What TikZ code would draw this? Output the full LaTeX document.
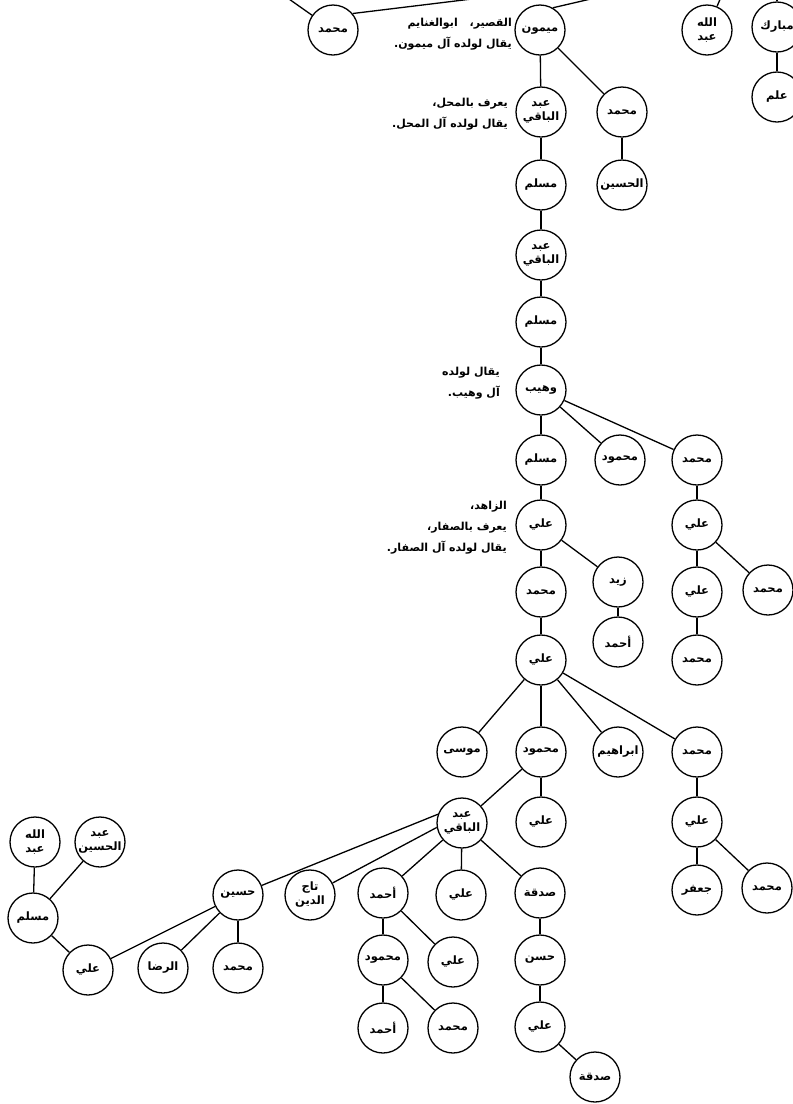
\documentclass[tikz,border=0pt]{standalone}
\usepackage{fontspec}
\usepackage{tikz}
\usetikzlibrary{positioning}
\newfontfamily\arabicfont[Script=Arabic]{DejaVu Sans}
\TeXXeTstate=1
\newcommand{\artxt}[1]{\beginR #1\endR}

\tikzset{
  person/.style={circle, draw, line width=1.3pt, minimum size=50pt, inner sep=0pt,
    align=center, font=\arabicfont\bfseries\fontsize{11.5}{14}\selectfont},
  link/.style={line width=1.3pt},
  remark/.style={anchor=east, align=right, inner sep=0pt,
    font=\arabicfont\bfseries\fontsize{11}{21}\selectfont},
}

\begin{document}
\begin{tikzpicture}[x=1pt, y=-1pt]
    \useasboundingbox (0,0) rectangle (793,1104);
    \clip (0,0) rectangle (793,1104);

    % Top row (parents off the page)
    \node[person] (mhdA) at (333,30) {\artxt{محمد}};
    \node[person] (maymun) at (540,30) {\artxt{ميمون}};
    \node[person] (abdallahA) at (707,30) {\artxt{الله}\\\artxt{عبد}};
    \node[person] (mubarak) at (777,27) {\artxt{مبارك}};
    \node[person] (ilm) at (777,97) {\artxt{علم}};
    \coordinate (offA) at (262,-20);
    \coordinate (offB) at (480,-2);
    \coordinate (offC) at (595,-2);
    \coordinate (offD) at (724,-10);
    \coordinate (offE) at (777,-10);

    % Main line down to Wuhayb
    \node[person] (abdbaqiA) at (541,112) {\artxt{عبد}\\\artxt{الباقي}};
    \node[person] (mhdB) at (622,112) {\artxt{محمد}};
    \node[person] (husaynA) at (622,185) {\artxt{الحسين}};
    \node[person] (muslimA) at (541,185) {\artxt{مسلم}};
    \node[person] (abdbaqiB) at (541,255) {\artxt{عبد}\\\artxt{الباقي}};
    \node[person] (muslimB) at (541,322) {\artxt{مسلم}};
    \node[person] (wuhayb) at (541,390) {\artxt{وهيب}};

    % Sons of Wuhayb
    \node[person] (muslimC) at (541,460) {\artxt{مسلم}};
    \node[person] (mahmudA) at (620,460) {\artxt{محمود}};
    \node[person] (mhdC) at (697,460) {\artxt{محمد}};
    \node[person] (aliA) at (541,525) {\artxt{علي}};
    \node[person] (mhdD) at (541,592) {\artxt{محمد}};
    \node[person] (zayd) at (618,582) {\artxt{زيد}};
    \node[person] (ahmadA) at (618,642) {\artxt{أحمد}};
    \node[person] (aliB) at (541,660) {\artxt{علي}};
    \node[person] (aliC) at (697,525) {\artxt{علي}};
    \node[person] (aliD) at (697,592) {\artxt{علي}};
    \node[person] (mhdE) at (768,590) {\artxt{محمد}};
    \node[person] (mhdF) at (697,660) {\artxt{محمد}};

    % Sons of Ali
    \node[person] (musa) at (462,752) {\artxt{موسى}};
    \node[person] (mahmudB) at (541,752) {\artxt{محمود}};
    \node[person] (ibrahim) at (618,752) {\artxt{ابراهيم}};
    \node[person] (mhdG) at (697,752) {\artxt{محمد}};
    \node[person] (abdbaqiC) at (462,823) {\artxt{عبد}\\\artxt{الباقي}};
    \node[person] (aliE) at (541,822) {\artxt{علي}};
    \node[person] (aliF) at (697,822) {\artxt{علي}};
    \node[person] (jafar) at (697,890) {\artxt{جعفر}};
    \node[person] (mhdH) at (767,888) {\artxt{محمد}};

    % Sons of Abd al-Baqi
    \node[person] (husaynB) at (238,895) {\artxt{حسين}};
    \node[person] (taj) at (310,895) {\artxt{تاج}\\\artxt{الدين}};
    \node[person] (ahmadB) at (383,893) {\artxt{أحمد}};
    \node[person] (aliG) at (461,895) {\artxt{علي}};
    \node[person] (sadaqaA) at (540,893) {\artxt{صدقة}};

    % Lower branches
    \node[person] (aliH) at (88,970) {\artxt{علي}};
    \node[person] (rida) at (163,968) {\artxt{الرضا}};
    \node[person] (mhdI) at (238,968) {\artxt{محمد}};
    \node[person] (muslimD) at (33,918) {\artxt{مسلم}};
    \node[person] (abdallahB) at (35,842) {\artxt{الله}\\\artxt{عبد}};
    \node[person] (abdhusayn) at (100,842) {\artxt{عبد}\\\artxt{الحسين}};
    \node[person] (mahmudC) at (383,960) {\artxt{محمود}};
    \node[person] (aliI) at (453,962) {\artxt{علي}};
    \node[person] (ahmadC) at (383,1028) {\artxt{أحمد}};
    \node[person] (mhdJ) at (453,1028) {\artxt{محمد}};
    \node[person] (hasan) at (540,960) {\artxt{حسن}};
    \node[person] (aliJ) at (540,1027) {\artxt{علي}};
    \node[person] (sadaqaB) at (595,1077) {\artxt{صدقة}};

    % Remarks beside the circles
    \node[remark] (kunyaA) at (458,24) {\artxt{ابوالغنايم}};
    \node[remark] (noteA) at (512,34) {\artxt{القصير،}\\\artxt{يقال لولده آل ميمون.}};
    \node[remark] (noteB) at (508,114) {\artxt{يعرف بالمحل،}\\\artxt{يقال لولده آل المحل.}};
    \node[remark] (noteC) at (500,383) {\artxt{يقال لولده}\\\artxt{آل وهيب.}};
    \node[remark] (noteD) at (507,528) {\artxt{الزاهد،}\\\artxt{يعرف بالصفار،}\\\artxt{يقال لولده آل الصفار.}};

    % Connectors
    \draw[link] (offA) -- (mhdA);
    \draw[link] (mhdA.40) -- (offB);
    \draw[link] (maymun.60) -- (offC);
    \draw[link] (abdallahA) -- (offD);
    \draw[link] (mubarak) -- (offE);
    \draw[link] (mubarak) -- (ilm);
    \draw[link] (maymun) -- (abdbaqiA);
    \draw[link] (maymun) -- (mhdB);
    \draw[link] (mhdB) -- (husaynA);
    \draw[link] (abdbaqiA) -- (muslimA);
    \draw[link] (muslimA) -- (abdbaqiB);
    \draw[link] (abdbaqiB) -- (muslimB);
    \draw[link] (muslimB) -- (wuhayb);
    \draw[link] (wuhayb) -- (muslimC);
    \draw[link] (wuhayb) -- (mahmudA);
    \draw[link] (wuhayb) -- (mhdC);
    \draw[link] (muslimC) -- (aliA);
    \draw[link] (aliA) -- (mhdD);
    \draw[link] (aliA) -- (zayd);
    \draw[link] (zayd) -- (ahmadA);
    \draw[link] (mhdD) -- (aliB);
    \draw[link] (mhdC) -- (aliC);
    \draw[link] (aliC) -- (aliD);
    \draw[link] (aliC) -- (mhdE);
    \draw[link] (aliD) -- (mhdF);
    \draw[link] (aliB) -- (musa);
    \draw[link] (aliB) -- (mahmudB);
    \draw[link] (aliB) -- (ibrahim);
    \draw[link] (aliB) -- (mhdG);
    \draw[link] (mahmudB) -- (abdbaqiC);
    \draw[link] (mahmudB) -- (aliE);
    \draw[link] (mhdG) -- (aliF);
    \draw[link] (aliF) -- (jafar);
    \draw[link] (aliF) -- (mhdH);
    \draw[link] (abdbaqiC.160) -- (husaynB);
    \draw[link] (abdbaqiC.190) -- (taj);
    \draw[link] (abdbaqiC) -- (ahmadB);
    \draw[link] (abdbaqiC) -- (aliG);
    \draw[link] (abdbaqiC) -- (sadaqaA);
    \draw[link] (husaynB) -- (aliH);
    \draw[link] (husaynB) -- (rida);
    \draw[link] (husaynB) -- (mhdI);
    \draw[link] (aliH) -- (muslimD);
    \draw[link] (muslimD) -- (abdallahB);
    \draw[link] (muslimD) -- (abdhusayn);
    \draw[link] (ahmadB) -- (mahmudC);
    \draw[link] (ahmadB) -- (aliI);
    \draw[link] (mahmudC) -- (ahmadC);
    \draw[link] (mahmudC) -- (mhdJ);
    \draw[link] (sadaqaA) -- (hasan);
    \draw[link] (hasan) -- (aliJ);
    \draw[link] (aliJ) -- (sadaqaB);
\end{tikzpicture}
\end{document}
